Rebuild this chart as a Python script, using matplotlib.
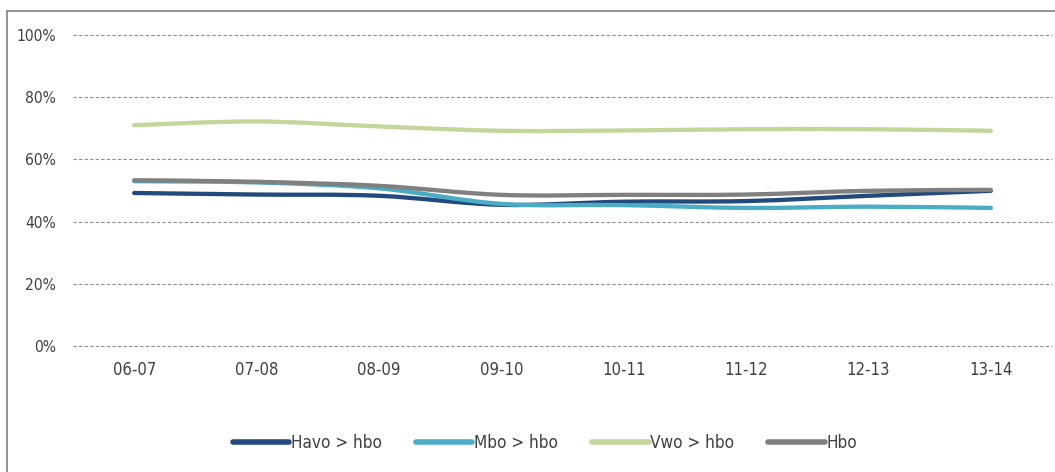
import matplotlib
matplotlib.use("Agg")
import matplotlib.pyplot as plt
from matplotlib.patches import Rectangle, PathPatch
from matplotlib.path import Path
from matplotlib.lines import Line2D
from matplotlib.ticker import FuncFormatter

categories = ["06-07", "07-08", "08-09", "09-10", "10-11", "11-12", "12-13", "13-14"]
havo = [49.2, 48.7, 48.3, 45.4, 46.4, 46.6, 48.3, 49.9]
mbo = [53.0, 52.6, 50.7, 45.7, 45.3, 44.4, 44.8, 44.4]
vwo = [71.0, 72.2, 70.6, 69.2, 69.3, 69.7, 69.7, 69.2]
hbo = [53.3, 52.8, 51.5, 48.6, 48.6, 48.7, 49.9, 50.2]
series_names = ["Havo > hbo", "Mbo > hbo", "Vwo > hbo", "Hbo"]
yticks = [0, 20, 40, 60, 80, 100]

colors = ["#234a7d", "#4bacc6", "#c3d69b", "#808080"]
txt = "#404040"
fam = "DejaVu Sans"
LW = 3.1


def smooth_path(xs, ys):
    """Catmull-Rom style cubic Bezier through the data points (like Excel smoothed lines)."""
    n = len(xs)
    verts = [(xs[0], ys[0])]
    codes = [Path.MOVETO]
    for i in range(n - 1):
        x0, y0 = (xs[i - 1], ys[i - 1]) if i > 0 else (xs[i], ys[i])
        x1, y1 = xs[i], ys[i]
        x2, y2 = xs[i + 1], ys[i + 1]
        x3, y3 = (xs[i + 2], ys[i + 2]) if i + 2 < n else (x2, y2)
        c1 = (x1 + (x2 - x0) / 6, y1 + (y2 - y0) / 6)
        c2 = (x2 - (x3 - x1) / 6, y2 - (y3 - y1) / 6)
        verts += [c1, c2, (x2, y2)]
        codes += [Path.CURVE4] * 3
    return Path(verts, codes)


fig = plt.figure(figsize=(10.55, 4.72), dpi=100)
ax = fig.add_axes([73/1055, 1-346/472, (1052-73)/1055, (346-35)/472])

x = list(range(len(categories)))
handles = []
for vals, name, c in zip([havo, mbo, vwo, hbo], series_names, colors):
    patch = PathPatch(smooth_path(x, vals), fill=False, edgecolor=c, lw=LW,
                      capstyle="round", joinstyle="round")
    ax.add_patch(patch)
    handles.append(Line2D([], [], color=c, lw=4.0, solid_capstyle="round", label=name))

ax.set_xlim(-0.5, len(categories) - 0.5)
ax.set_ylim(0, 100)
ax.set_yticks(yticks)
ax.yaxis.set_major_formatter(FuncFormatter(lambda v, p: f"{int(v)}%"))
ax.set_xticks(x)
ax.set_xticklabels(categories)
ax.tick_params(axis="y", length=0, labelcolor=txt, labelsize=11.2, pad=12)
ax.tick_params(axis="x", length=0, labelcolor=txt, labelsize=12, pad=11)
for lab in ax.get_xticklabels() + ax.get_yticklabels():
    lab.set_fontfamily(fam)
    lab.set_fontstretch("condensed")
ax.grid(axis="y", color="#8c8c8c", linestyle=(0, (3, 2)), lw=0.8)
for gl in ax.get_ygridlines():
    gl.set_clip_on(False)
ax.set_axisbelow(True)
for s in ax.spines.values():
    s.set_visible(False)

fig.patches.append(Rectangle((7/1055, -0.2), 1.2, 1.2 - 11/472,
                             transform=fig.transFigure, fill=False,
                             edgecolor="#8a8a8a", lw=1.3))

leg = fig.legend(handles=handles, loc="center", bbox_to_anchor=(545/1055, 1-443/472), ncol=4,
                 frameon=False, handlelength=3.3, handletextpad=0.1,
                 columnspacing=2.0, prop={"family": fam, "size": 12.3, "stretch": "condensed"})
for t in leg.get_texts():
    t.set_color(txt)

fig.savefig("out.png", dpi=100)
